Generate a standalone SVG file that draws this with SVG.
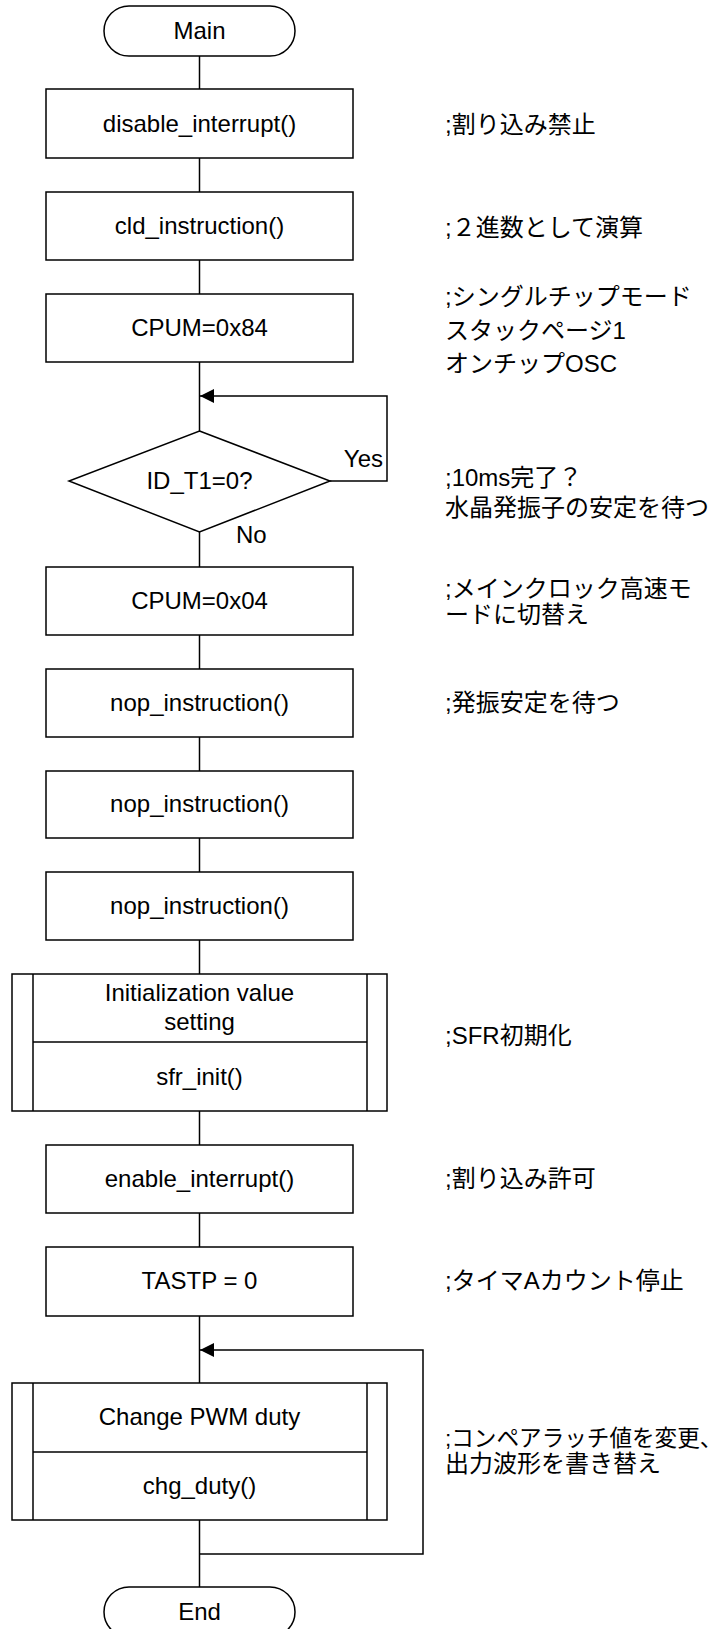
<svg xmlns="http://www.w3.org/2000/svg" width="726" height="1629" viewBox="0 0 726 1629">
<style>
.s{fill:#fff;stroke:#000;stroke-width:1.5}
.l{fill:none;stroke:#000;stroke-width:1.5}
text{font-family:"Liberation Sans","Noto Sans CJK JP",sans-serif;font-size:24px;fill:#000}
.c{text-anchor:middle}
.n{font-size:22.6px}
</style>
<defs>
<marker id="arr" markerUnits="userSpaceOnUse" markerWidth="15" markerHeight="15" refX="14" refY="7" orient="auto">
<path d="M0,0 L14,7 L0,14 z" fill="#000"/>
</marker>
</defs>
<rect width="726" height="1629" fill="#fff"/>
<g id="connectors">
<line class="l" x1="199.5" y1="56" x2="199.5" y2="89"/>
<line class="l" x1="199.5" y1="158" x2="199.5" y2="192"/>
<line class="l" x1="199.5" y1="260" x2="199.5" y2="294"/>
<line class="l" x1="199.5" y1="362" x2="199.5" y2="431"/>
<polyline class="l" points="330,481 387,481 387,396 200,396" marker-end="url(#arr)"/>
<line class="l" x1="199.5" y1="532" x2="199.5" y2="567"/>
<line class="l" x1="199.5" y1="635" x2="199.5" y2="669"/>
<line class="l" x1="199.5" y1="737" x2="199.5" y2="771"/>
<line class="l" x1="199.5" y1="838" x2="199.5" y2="872"/>
<line class="l" x1="199.5" y1="940" x2="199.5" y2="974"/>
<line class="l" x1="199.5" y1="1111" x2="199.5" y2="1145"/>
<line class="l" x1="199.5" y1="1213" x2="199.5" y2="1247"/>
<line class="l" x1="199.5" y1="1316" x2="199.5" y2="1383"/>
<line class="l" x1="199.5" y1="1520" x2="199.5" y2="1587"/>
<polyline class="l" points="199.5,1554 423,1554 423,1350 200,1350" marker-end="url(#arr)"/>
<text x="383" y="467" text-anchor="end">Yes</text>
<text x="236" y="543">No</text>
</g>
<g id="main">
<rect class="s" x="104" y="6" width="191" height="50" rx="25"/>
<text class="c" x="199.5" y="39">Main</text>
</g>
<g id="disable">
<rect class="s" x="46" y="89" width="307" height="69"/>
<text class="c" x="199.5" y="132">disable_interrupt()</text>
</g>
<g id="cld">
<rect class="s" x="46" y="192" width="307" height="68"/>
<text class="c" x="199.5" y="234">cld_instruction()</text>
</g>
<g id="cpum84">
<rect class="s" x="46" y="294" width="307" height="68"/>
<text class="c" x="199.5" y="336">CPUM=0x84</text>
</g>
<g id="decision">
<polygon class="s" points="199.5,431 330,481 199.5,532 69,481"/>
<text class="c" x="199.5" y="489">ID_T1=0?</text>
</g>
<g id="cpum04">
<rect class="s" x="46" y="567" width="307" height="68"/>
<text class="c" x="199.5" y="609">CPUM=0x04</text>
</g>
<g id="nop1">
<rect class="s" x="46" y="669" width="307" height="68"/>
<text class="c" x="199.5" y="711">nop_instruction()</text>
</g>
<g id="nop2">
<rect class="s" x="46" y="771" width="307" height="67"/>
<text class="c" x="199.5" y="812">nop_instruction()</text>
</g>
<g id="nop3">
<rect class="s" x="46" y="872" width="307" height="68"/>
<text class="c" x="199.5" y="914">nop_instruction()</text>
</g>
<g id="sfrinit">
<rect class="s" x="12" y="974" width="375" height="137"/>
<line class="l" x1="33" y1="974" x2="33" y2="1111"/>
<line class="l" x1="367" y1="974" x2="367" y2="1111"/>
<line class="l" x1="33" y1="1042" x2="367" y2="1042"/>
<text class="c" x="199.5" y="1001">Initialization value</text>
<text class="c" x="199.5" y="1030">setting</text>
<text class="c" x="199.5" y="1085">sfr_init()</text>
</g>
<g id="enable">
<rect class="s" x="46" y="1145" width="307" height="68"/>
<text class="c" x="199.5" y="1187">enable_interrupt()</text>
</g>
<g id="tastp">
<rect class="s" x="46" y="1247" width="307" height="69"/>
<text class="c" x="199.5" y="1289">TASTP = 0</text>
</g>
<g id="chgduty">
<rect class="s" x="12" y="1383" width="375" height="137"/>
<line class="l" x1="33" y1="1383" x2="33" y2="1520"/>
<line class="l" x1="367" y1="1383" x2="367" y2="1520"/>
<line class="l" x1="33" y1="1452" x2="367" y2="1452"/>
<text class="c" x="199.5" y="1425">Change PWM duty</text>
<text class="c" x="199.5" y="1494">chg_duty()</text>
</g>
<g id="end">
<rect class="s" x="104" y="1587" width="191" height="50" rx="25"/>
<text class="c" x="199.5" y="1620">End</text>
</g>
<g id="comments">
<text x="445" y="133">;割り込み禁止</text>
<text x="445" y="236">;２進数として演算</text>
<text x="445" y="305">;シングルチップモード</text>
<text x="445" y="339">スタックページ1</text>
<text x="445" y="372">オンチップOSC</text>
<text x="445" y="486">;10ms完了？</text>
<text x="445" y="516">水晶発振子の安定を待つ</text>
<text x="445" y="597">;メインクロック高速モ</text>
<text x="445" y="623">ードに切替え</text>
<text x="445" y="711">;発振安定を待つ</text>
<text x="445" y="1044">;SFR初期化</text>
<text x="445" y="1187">;割り込み許可</text>
<text x="445" y="1289">;タイマAカウント停止</text>
<text class="n" x="445" y="1446">;コンペアラッチ値を変更、</text>
<text x="445" y="1472">出力波形を書き替え</text>
</g>
</svg>
